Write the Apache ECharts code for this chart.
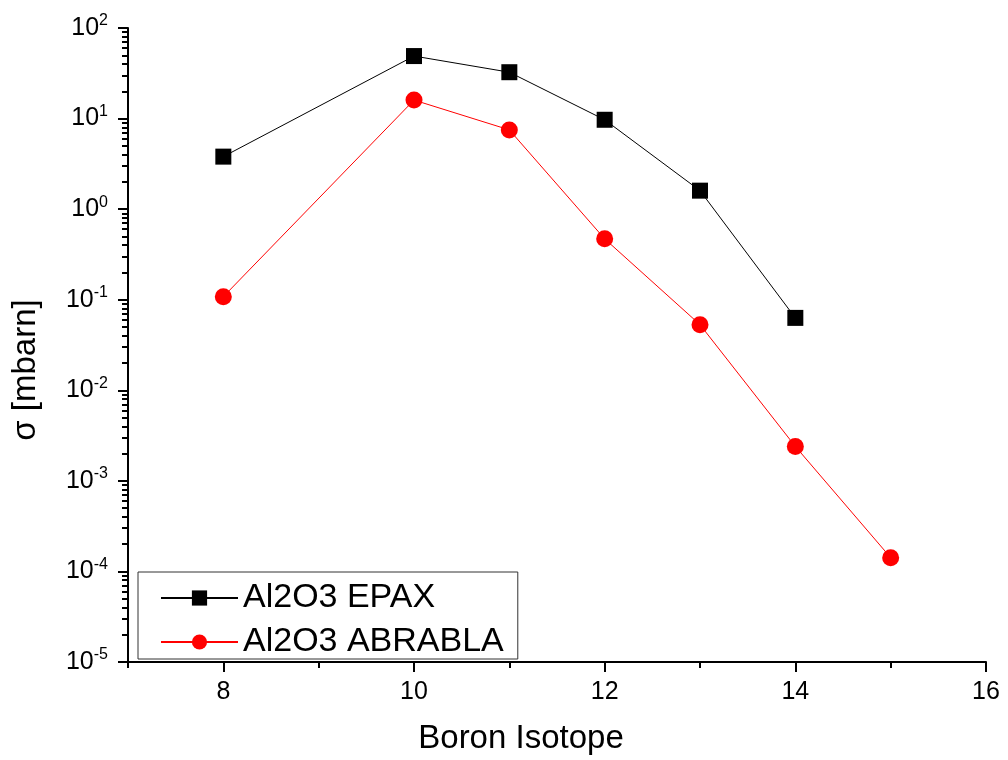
<!DOCTYPE html>
<html><head><meta charset="utf-8">
<script src="https://cdn.jsdelivr.net/npm/echarts@6/dist/echarts.min.js"></script>
<style>html,body{margin:0;padding:0;background:#fff}#c{width:1008px;height:760px}</style>
</head><body><div id="c"></div>
<script>
const isotopesEpax = [8, 10, 11, 12, 13, 14];
const epax = [3.8, 49, 32.5, 9.7, 1.6, 0.063];
const isotopesAbrabla = [8, 10, 11, 12, 13, 14, 15];
const abrabla = [0.108, 16, 7.5, 0.47, 0.053, 0.0024, 0.000142];
const xMajorTicks = [8, 10, 12, 14, 16];
const xMinorTicks = [7, 9, 11, 13, 15];
const yExponents = [-5, -4, -3, -2, -1, 0, 1, 2];

const yMinorLog = [];
yExponents.slice(0, -1).forEach(e => { for (let k = 2; k <= 9; k++) yMinorLog.push(Math.log10(k) + e); });

const font = '"Liberation Sans", Arial, sans-serif';
const chart = echarts.init(document.getElementById('c'));
chart.setOption({
  animation: false,
  grid: {left: 128, right: 22, top: 28, bottom: 97},
  legend: {
    orient: 'vertical', left: 138, top: 572,
    padding: [9, 14, 0, 22], itemGap: 10,
    borderColor: '#333', borderWidth: 1,
    itemWidth: 77, itemHeight: 19,
    textStyle: {fontFamily: font, fontSize: 34, color: '#000'},
    data: ['Al2O3 EPAX', 'Al2O3 ABRABLA']
  },
  xAxis: [{
    type: 'value', min: 7, max: 16, interval: 1,
    name: 'Boron Isotope', nameLocation: 'middle', nameGap: 60,
    nameTextStyle: {fontFamily: font, fontSize: 33, color: '#000', padding: [0, 72, 0, 0]},
    axisLine: {onZero: false, lineStyle: {color: '#000', width: 2}},
    axisTick: {customValues: xMajorTicks, length: 10, inside: false, lineStyle: {width: 2, color: '#000'}},
    axisLabel: {customValues: xMajorTicks, margin: 18, fontFamily: font, fontSize: 25, color: '#000'},
    splitLine: {show: false}
  }, {
    type: 'value', min: 7, max: 16, interval: 1, position: 'bottom',
    axisLine: {show: false, onZero: false},
    axisTick: {customValues: xMinorTicks, length: 6, lineStyle: {width: 2, color: '#000'}},
    axisLabel: {show: false}, splitLine: {show: false}
  }],
  yAxis: [{
    type: 'log', logBase: 10, min: 1e-5, max: 100,
    name: 'σ [mbarn]', nameLocation: 'middle', nameGap: 86, nameRotate: 90,
    nameTextStyle: {fontFamily: font, fontSize: 33, color: '#000', padding: [0, 50, 0, 0]},
    axisLine: {show: true, onZero: false, lineStyle: {color: '#000', width: 2}},
    axisTick: {length: 10, lineStyle: {width: 2, color: '#000'}},
    axisLabel: {
      margin: 20,
      formatter: v => '{b|10}{s|' + Math.round(Math.log10(v)) + '}',
      rich: {
        b: {fontFamily: font, fontSize: 25, color: '#000'},
        s: {fontFamily: font, fontSize: 16, color: '#000', padding: [0, 0, 14, 0]}
      }
    },
    splitLine: {show: false}
  }, {
    type: 'value', min: -5, max: 2, interval: 1, position: 'left',
    axisLine: {show: false, onZero: false},
    axisTick: {customValues: yMinorLog, length: 6, lineStyle: {width: 2, color: '#000'}},
    axisLabel: {show: false}, splitLine: {show: false}
  }],
  series: [{
    name: 'Al2O3 EPAX', type: 'line',
    data: isotopesEpax.map((x, i) => [x, epax[i]]),
    symbol: 'rect', symbolSize: 16,
    lineStyle: {color: '#000', width: 1}, itemStyle: {color: '#000'}
  }, {
    name: 'Al2O3 ABRABLA', type: 'line',
    data: isotopesAbrabla.map((x, i) => [x, abrabla[i]]),
    symbol: 'circle', symbolSize: 17,
    lineStyle: {color: '#ff0000', width: 1}, itemStyle: {color: '#ff0000'}
  }]
});
</script></body></html>
